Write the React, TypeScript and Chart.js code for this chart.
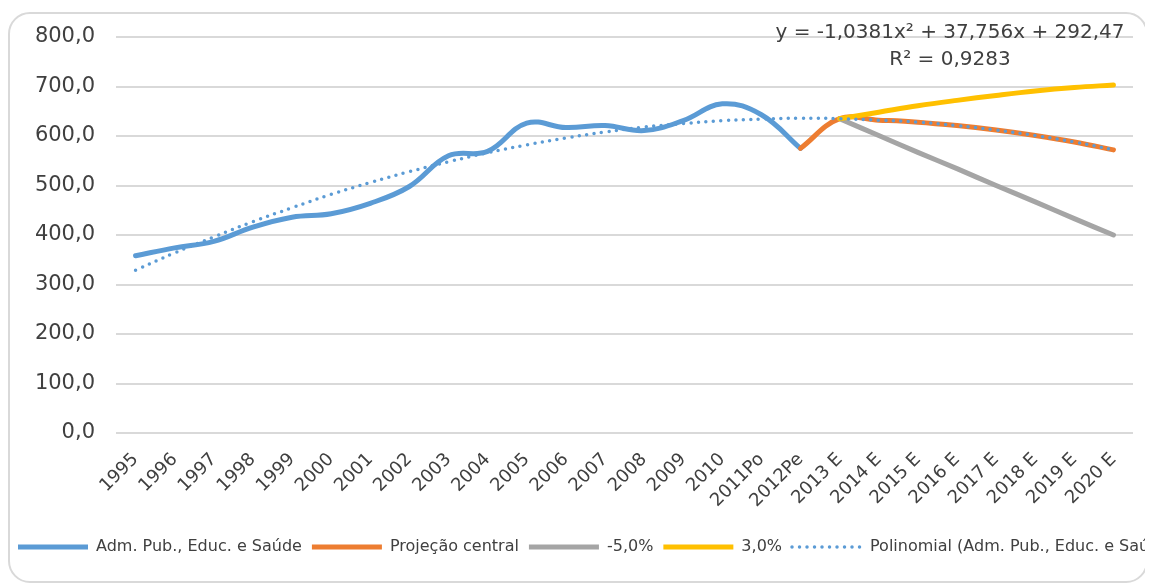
import React, { useEffect, useRef } from "react";
import { Chart, registerables } from "chart.js";

Chart.register(...registerables);

const categories = [
  "1995", "1996", "1997", "1998", "1999", "2000", "2001", "2002", "2003", "2004",
  "2005", "2006", "2007", "2008", "2009", "2010", "2011Po", "2012Pe",
  "2013 E", "2014 E", "2015 E", "2016 E", "2017 E", "2018 E", "2019 E", "2020 E",
];

// Adm. Pub., Educ. e Saúde (1995 .. 2012Pe)
const admPub = [358, 374, 387, 416, 436, 443, 464, 498, 560, 569, 626, 617, 621, 611, 631, 665, 643, 575];
// Projeção central (2012Pe .. 2020 E)
const projecaoStart = 17;
const projecaoCentral = [575, 635, 632, 628, 621, 612, 601, 588, 572];
// -5,0% (2013 E .. 2020 E)
const cenarioStart = 18;
const cenarioMenos5 = [635, 601, 567, 534, 500, 467, 433, 400];
// 3,0% (2013 E .. 2020 E)
const cenarioMais3 = [635, 648, 661, 672, 682, 691, 698, 703];
// Polinomial trendline (all categories)
const polinomial = [329, 364, 396, 427, 455, 482, 506, 528, 548, 566, 582, 596, 608, 618, 625, 631, 634, 636, 635, 632, 628, 621, 612, 601, 588, 572];

const yTicks = [0, 100, 200, 300, 400, 500, 600, 700, 800];
const equationText = "y = -1,0381x² + 37,756x + 292,47";
const r2Text = "R² = 0,9283";

const FONT = "'DejaVu Sans', sans-serif";
const TEXT = "#404040";

function pad(start: number, values: number[]) {
  const out: (number | null)[] = Array(start).fill(null);
  return out.concat(values, Array(categories.length - start - values.length).fill(null));
}

const equationPlugin = {
  id: "equationLabel",
  afterDatasetsDraw(chart: any) {
    const { ctx, chartArea } = chart;
    ctx.save();
    ctx.font = `20px ${FONT}`;
    ctx.fillStyle = TEXT;
    ctx.textAlign = "center";
    ctx.textBaseline = "middle";
    const cx = chartArea.right - 183;
    ctx.fillText(equationText, cx, chartArea.top - 4);
    ctx.fillText(r2Text, cx, chartArea.top + 23);
    ctx.restore();
  },
};

export default function App() {
  const ref = useRef<HTMLCanvasElement>(null);

  useEffect(() => {
    const chart = new Chart(ref.current!, {
      type: "line",
      data: {
        labels: categories,
        datasets: [
          {
            label: "Adm. Pub., Educ. e Saúde",
            data: pad(0, admPub),
            borderColor: "#5B9BD5",
            backgroundColor: "#5B9BD5",
            borderWidth: 5,
            tension: 0.4,
            borderCapStyle: "round",
            pointRadius: 0,
            order: 5,
          },
          {
            label: "Projeção central",
            data: pad(projecaoStart, projecaoCentral),
            borderColor: "#ED7D31",
            backgroundColor: "#ED7D31",
            borderWidth: 5,
            tension: 0.4,
            borderCapStyle: "round",
            pointRadius: 0,
            order: 4,
          },
          {
            label: "-5,0%",
            data: pad(cenarioStart, cenarioMenos5),
            borderColor: "#A5A5A5",
            backgroundColor: "#A5A5A5",
            borderWidth: 5,
            tension: 0.4,
            borderCapStyle: "round",
            pointRadius: 0,
            order: 3,
          },
          {
            label: "3,0%",
            data: pad(cenarioStart, cenarioMais3),
            borderColor: "#FFC000",
            backgroundColor: "#FFC000",
            borderWidth: 5,
            tension: 0.4,
            borderCapStyle: "round",
            pointRadius: 0,
            order: 2,
          },
          {
            label: "Polinomial (Adm. Pub., Educ. e Saúde)",
            data: polinomial,
            borderColor: "#5B9BD5",
            backgroundColor: "#5B9BD5",
            borderWidth: 3.5,
            borderDash: [0, 7.5],
            borderCapStyle: "round",
            tension: 0.4,
            pointRadius: 0,
            order: 1,
          },
        ],
      },
      options: {
        animation: false,
        responsive: true,
        maintainAspectRatio: false,
        layout: { padding: { top: 25, bottom: 17, left: 0, right: 0 } },
        plugins: {
          tooltip: { enabled: false },
          legend: {
            position: "bottom",
            align: "start",
            labels: {
              usePointStyle: true,
              pointStyle: "line",
              pointStyleWidth: 70,
              padding: 10,
              color: TEXT,
              font: { family: FONT, size: 16 },
              sort: (a: any, b: any) => a.datasetIndex - b.datasetIndex,
              generateLabels: (chart: any) => {
                const items = Chart.defaults.plugins.legend.labels.generateLabels(chart);
                return items.map((item: any) => {
                  const ds: any = chart.data.datasets[item.datasetIndex];
                  item.lineWidth = ds.borderWidth;
                  item.lineDash = ds.borderDash || [];
                  item.lineCap = ds.borderDash ? "round" : "butt";
                  item.strokeStyle = ds.borderColor;
                  return item;
                });
              },
            },
          },
        },
        scales: {
          x: {
            type: "category",
            offset: true,
            grid: { display: false },
            border: { display: false },
            ticks: {
              autoSkip: false,
              minRotation: 45,
              maxRotation: 45,
              padding: 8,
              color: TEXT,
              font: { family: FONT, size: 18 },
            },
            afterFit: (s: any) => {
              s.height = 96;
            },
          },
          y: {
            min: 0,
            max: 800,
            afterBuildTicks: (s: any) => {
              s.ticks = yTicks.map((v) => ({ value: v }));
            },
            ticks: {
              padding: 21,
              color: TEXT,
              font: { family: FONT, size: 21 },
              callback: (v: any) => Number(v).toFixed(1).replace(".", ","),
            },
            grid: { color: "#d9d9d9", lineWidth: 2, drawTicks: false },
            border: { display: false },
            afterFit: (s: any) => {
              s.width = 108;
              s.paddingTop = 10;
              s.paddingBottom = 10;
            },
          },
          yRight: {
            position: "right",
            display: true,
            grid: { display: false },
            border: { display: false },
            ticks: { display: false },
            afterFit: (s: any) => {
              s.width = 195;
            },
          },
        },
      },
      plugins: [equationPlugin],
    } as any);
    return () => chart.destroy();
  }, []);

  return (
    <div style={{ position: "relative", width: 1145, height: 578, overflow: "hidden" }}>
      <div
        style={{
          position: "absolute",
          left: 0,
          top: 4,
          width: 1140,
          height: 571,
          boxSizing: "border-box",
          border: "2px solid #d9d9d9",
          borderRadius: 22,
        }}
      />
      <div style={{ position: "absolute", left: 0, top: 4, width: 1320, height: 570 }}>
        <canvas ref={ref} />
      </div>
    </div>
  );
}
